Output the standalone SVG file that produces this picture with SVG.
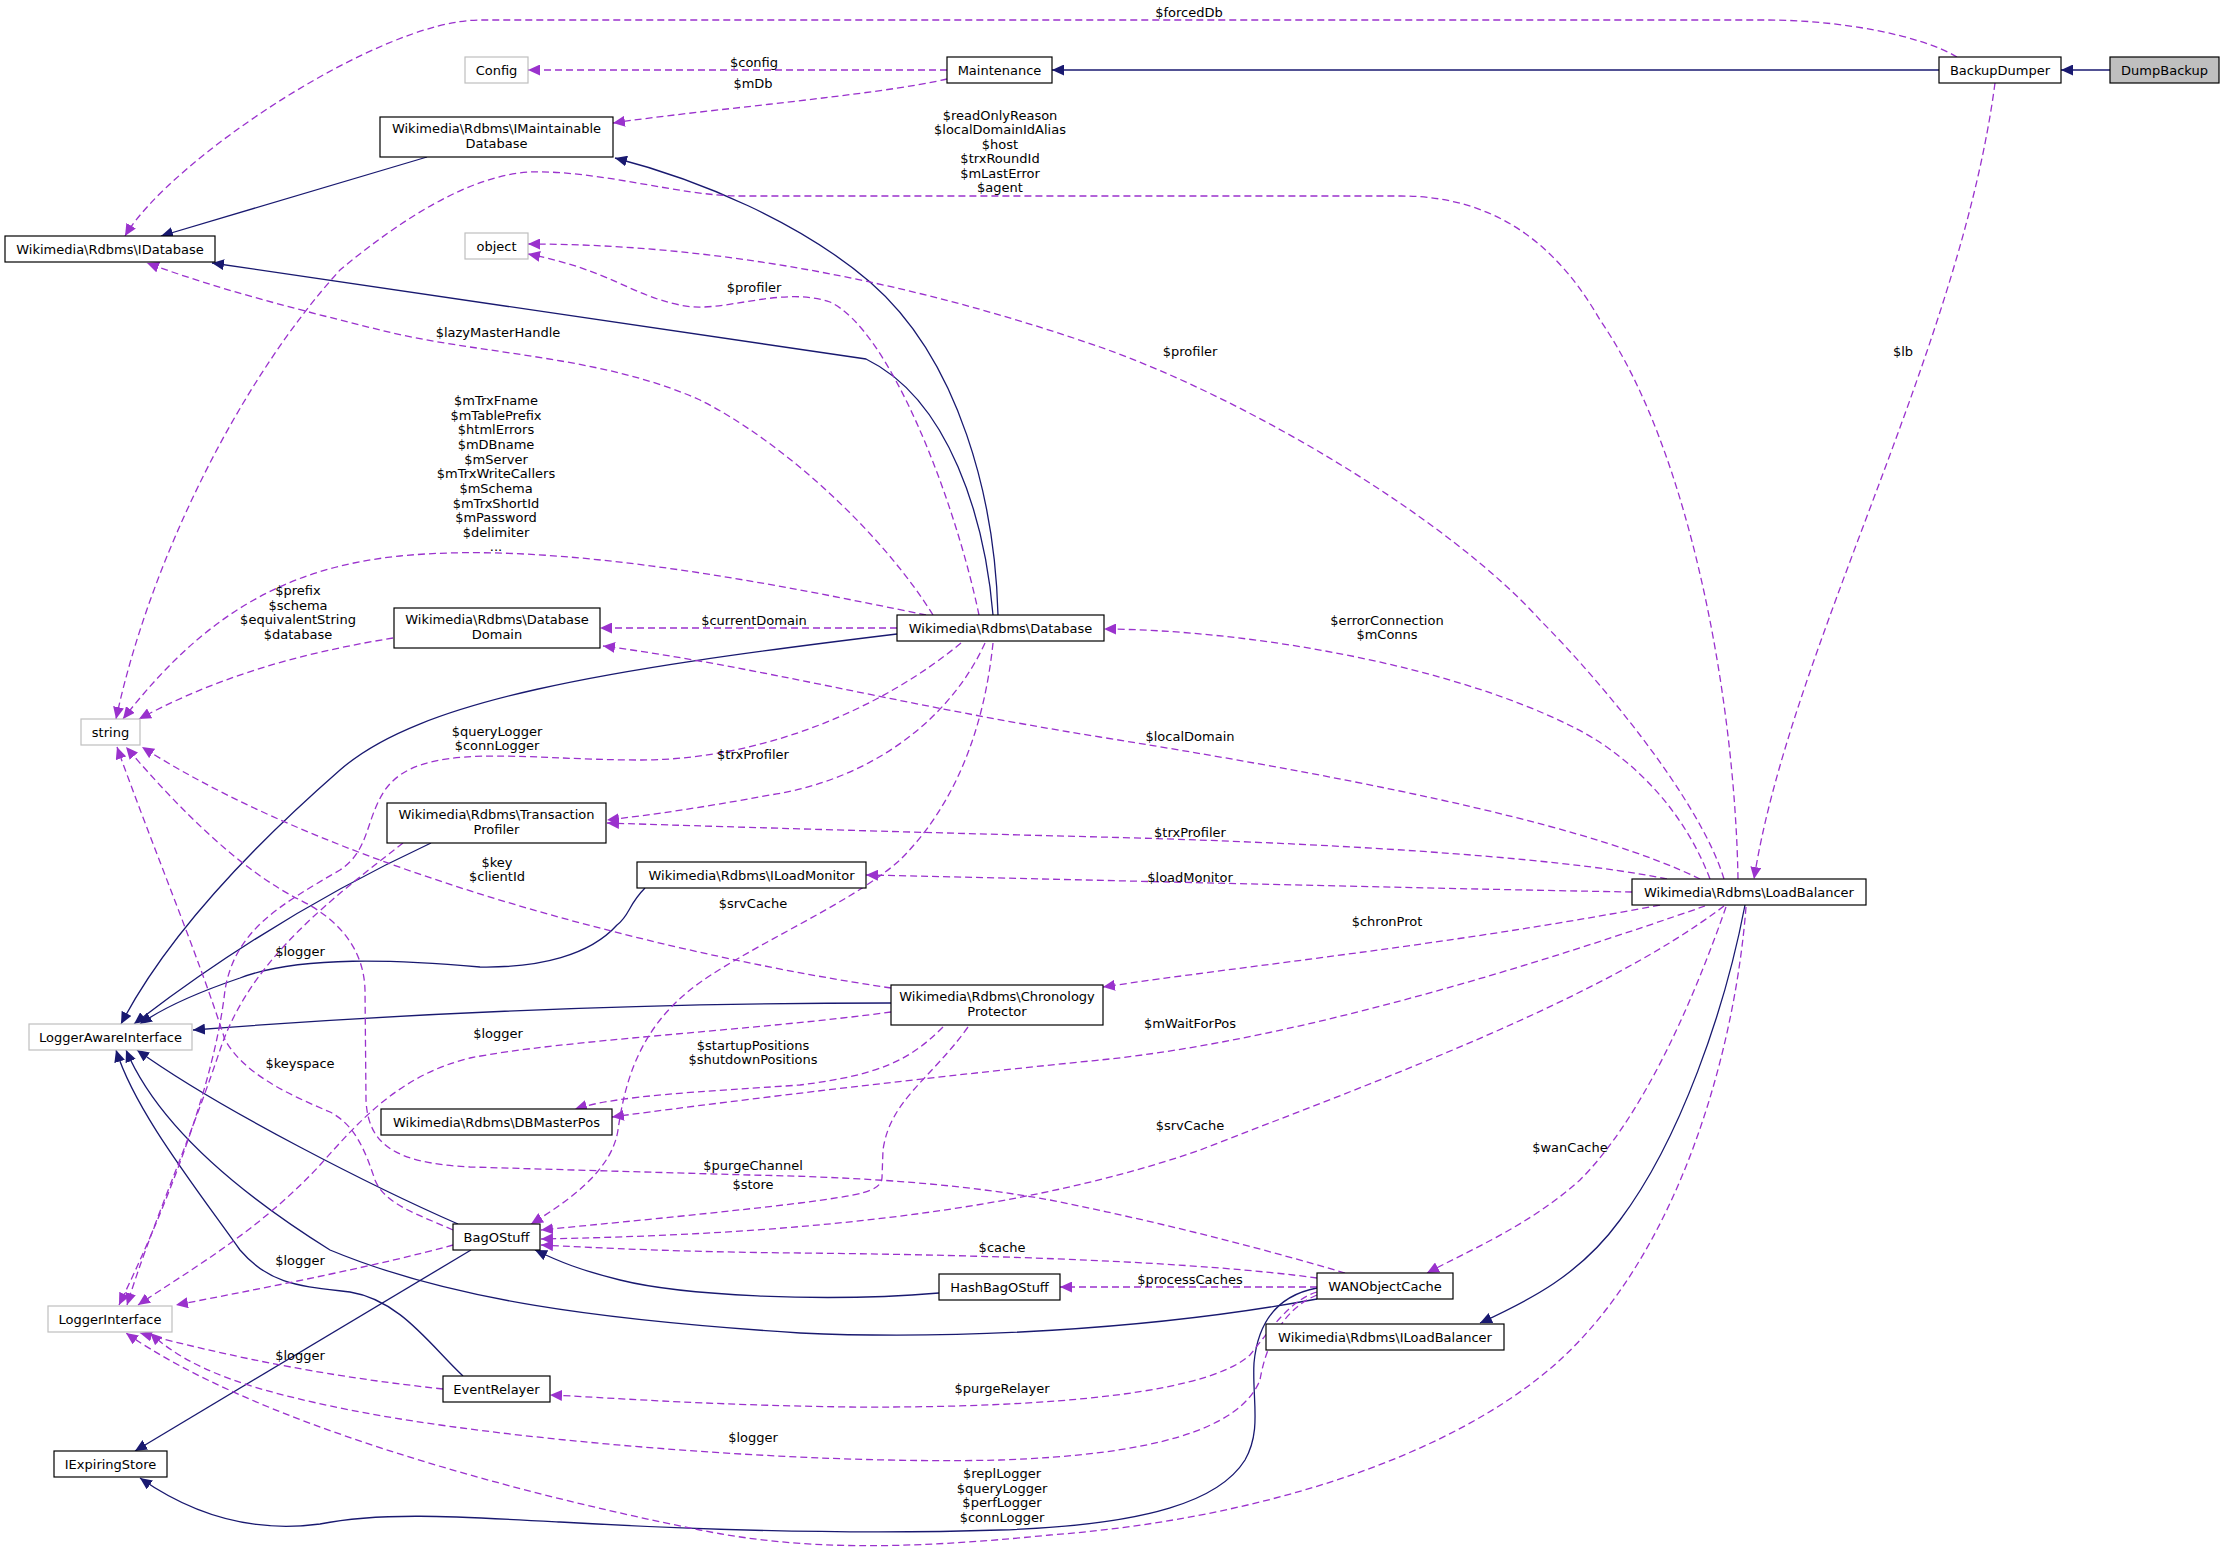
<svg xmlns="http://www.w3.org/2000/svg" width="2225" height="1554" viewBox="0 0 2225 1554">
<style>
.n rect{fill:#fff;stroke:#000;stroke-width:1.2}
.g rect{fill:#fff;stroke:#bfbfbf;stroke-width:1.2}
.f rect{fill:#bfbfbf;stroke:#000;stroke-width:1.2}
text{font-family:"DejaVu Sans",sans-serif;font-size:13px;text-anchor:middle;fill:#000}
.s{fill:none;stroke:#191970;stroke-width:1.3;marker-end:url(#as)}
.d{fill:none;stroke:#9a32cd;stroke-width:1.3;stroke-dasharray:7,4;marker-end:url(#ad)}
</style>
<defs>
<marker id="as" markerUnits="userSpaceOnUse" markerWidth="13" markerHeight="11" viewBox="0 0 13 11" refX="12" refY="5.5" orient="auto"><path d="M0,0 L12,5.5 L0,11 z" fill="#191970"/></marker>
<marker id="ad" markerUnits="userSpaceOnUse" markerWidth="13" markerHeight="11" viewBox="0 0 13 11" refX="12" refY="5.5" orient="auto"><path d="M0,0 L12,5.5 L0,11 z" fill="#9a32cd"/></marker>
</defs>
<rect width="2225" height="1554" fill="#fff"/>
<g id="edges">
<!-- solid inheritance -->
<path class="s" d="M2110,70 L2061,70"/>
<path class="s" d="M1939,70 L1052,70"/>
<path class="s" d="M427,157 L161,236"/>
<path class="s" d="M998,615 C995,500 960,360 870,282 C800,222 700,180 615,158"/>
<path class="s" d="M993,615 C985,520 950,400 866,359 L212,263"/>
<path class="s" d="M897,634 C600,670 420,700 340,770 C260,840 170,930 121,1024"/>
<path class="s" d="M431,843 C330,890 230,950 134,1024"/>
<path class="s" d="M645,888 C628,905 630,915 617,925 C590,955 540,968 480,967 C400,960 300,955 240,978 C190,995 160,1010 140,1024"/>
<path class="s" d="M891,1003 C700,1003 450,1010 193,1030"/>
<path class="s" d="M458,1224 C380,1190 220,1110 137,1050"/>
<path class="s" d="M463,1376 C430,1345 400,1300 350,1292 C300,1286 270,1285 240,1250 C190,1180 135,1110 116,1050"/>
<path class="s" d="M1317,1299 C1150,1330 950,1340 800,1333 C600,1320 450,1300 330,1250 C250,1200 160,1130 126,1050"/>
<path class="s" d="M939,1293 C820,1303 680,1295 620,1280 C580,1270 560,1262 535,1250"/>
<path class="s" d="M471,1250 L135,1451"/>
<path class="s" d="M1317,1288 C1280,1295 1258,1320 1254,1363 C1252,1400 1262,1430 1245,1460 C1220,1500 1150,1525 1000,1530 C850,1535 700,1530 560,1522 C450,1516 380,1512 320,1524 C260,1532 200,1520 140,1478"/>
<path class="s" d="M1745,905 C1725,1010 1680,1140 1620,1220 C1580,1275 1530,1300 1480,1323"/>
<!-- dashed usage -->
<path class="d" d="M1957,57 C1920,35 1840,20 1767,20 L480,20 C380,20 170,160 125,236"/>
<path class="d" d="M947,70 L528,70"/>
<path class="d" d="M947,79 C880,95 700,110 613,123"/>
<path class="d" d="M1995,83 C1960,350 1790,650 1754,879"/>
<path class="d" d="M1738,879 C1735,700 1690,450 1600,320 C1560,250 1500,196 1401,196 L740,196 C680,196 600,170 530,172 C470,175 400,220 340,270 C240,380 150,560 116,719"/>
<path class="d" d="M1724,879 C1700,800 1600,680 1540,620 C1450,520 1250,400 1100,347 C950,295 750,244 528,244"/>
<path class="d" d="M1710,879 C1680,800 1620,750 1573,727 C1450,665 1250,630 1104,629"/>
<path class="d" d="M979,615 C955,500 890,330 830,302 C780,285 720,315 680,305 C630,295 610,270 528,254"/>
<path class="d" d="M933,615 C880,530 780,440 700,400 C600,355 480,355 380,330 C300,310 220,290 147,263"/>
<path class="d" d="M926,615 C780,585 560,540 400,556 C280,568 200,620 123,719"/>
<path class="d" d="M897,628 L600,628"/>
<path class="d" d="M393,638 C320,650 230,670 139,719"/>
<path class="d" d="M1700,879 C1600,830 1400,785 1100,737 C900,705 750,665 603,646"/>
<path class="d" d="M1667,879 C1550,855 1300,842 1100,837 C900,832 700,826 607,823"/>
<path class="d" d="M985,643 C950,720 870,780 770,795 C700,808 650,815 607,820"/>
<path class="d" d="M961,643 C880,710 760,760 640,760 C520,760 420,740 385,790 C365,820 370,850 340,870 C280,905 235,930 225,990 C215,1080 170,1200 119,1305"/>
<path class="d" d="M403,843 C330,900 250,960 220,1050 C190,1140 150,1230 127,1305"/>
<path class="d" d="M891,988 C700,960 350,880 142,747"/>
<path class="d" d="M891,1012 C760,1030 560,1040 470,1058 C400,1075 360,1120 320,1165 C260,1230 190,1270 138,1305"/>
<path class="d" d="M943,1027 C910,1060 880,1075 800,1085 C700,1092 620,1095 575,1109"/>
<path class="d" d="M968,1027 C930,1080 890,1100 883,1150 L882,1178 C880,1192 860,1195 800,1203 C700,1215 600,1224 541,1230"/>
<path class="d" d="M1724,906 C1600,1000 1380,1080 1200,1150 C1000,1220 750,1235 541,1239"/>
<path class="d" d="M1726,907 C1690,1010 1640,1120 1580,1180 C1530,1225 1470,1250 1427,1273"/>
<path class="d" d="M1746,907 C1735,1050 1680,1250 1560,1360 C1450,1460 1250,1520 1050,1535 C900,1550 800,1550 700,1530 C500,1490 250,1420 126,1333"/>
<path class="d" d="M1632,892 C1400,888 1100,880 866,875"/>
<path class="d" d="M1660,905 C1450,945 1250,965 1103,987"/>
<path class="d" d="M1705,906 C1550,960 1300,1040 1100,1060 C900,1080 700,1105 612,1117"/>
<path class="d" d="M1317,1278 C1200,1262 1000,1255 800,1253 C680,1252 600,1248 541,1245"/>
<path class="d" d="M1317,1287 L1060,1287"/>
<path class="d" d="M1317,1292 C1290,1300 1270,1330 1250,1355 C1200,1400 1000,1408 850,1407 C700,1405 600,1397 550,1395"/>
<path class="d" d="M1317,1295 C1280,1310 1265,1350 1260,1380 C1240,1430 1150,1455 1000,1460 C800,1465 500,1440 350,1410 C250,1390 190,1370 150,1333"/>
<path class="d" d="M443,1389 C380,1382 280,1370 140,1333"/>
<path class="d" d="M453,1245 C380,1265 280,1285 176,1305"/>
<path class="d" d="M1345,1273 C1250,1245 1150,1220 1050,1200 C950,1182 850,1177 750,1175 L470,1167 C395,1163 368,1145 366,1100 L365,990 C364,950 340,920 300,900 C240,870 180,810 126,747"/>
<path class="d" d="M453,1230 C420,1215 385,1205 375,1180 C365,1150 355,1125 330,1112 C290,1095 245,1075 225,1040 C200,960 150,840 117,747"/>
<path class="d" d="M993,643 C985,720 960,800 900,860 C850,905 740,950 690,990 C640,1030 625,1080 618,1130 C612,1170 570,1200 531,1224"/>
<!-- labels -->
<text x="1189" y="17">$forcedDb</text>
<text x="754" y="67">$config</text>
<text x="753" y="88">$mDb</text>
<text x="1000" y="120">$readOnlyReason</text>
<text x="1000" y="134">$localDomainIdAlias</text>
<text x="1000" y="149">$host</text>
<text x="1000" y="163">$trxRoundId</text>
<text x="1000" y="178">$mLastError</text>
<text x="1000" y="192">$agent</text>
<text x="754" y="292">$profiler</text>
<text x="1190" y="356">$profiler</text>
<text x="1903" y="356">$lb</text>
<text x="498" y="337">$lazyMasterHandle</text>
<text x="496" y="405">$mTrxFname</text>
<text x="496" y="420">$mTablePrefix</text>
<text x="496" y="434">$htmlErrors</text>
<text x="496" y="449">$mDBname</text>
<text x="496" y="464">$mServer</text>
<text x="496" y="478">$mTrxWriteCallers</text>
<text x="496" y="493">$mSchema</text>
<text x="496" y="508">$mTrxShortId</text>
<text x="496" y="522">$mPassword</text>
<text x="496" y="537">$delimiter</text>
<text x="496" y="551">...</text>
<text x="298" y="595">$prefix</text>
<text x="298" y="610">$schema</text>
<text x="298" y="624">$equivalentString</text>
<text x="298" y="639">$database</text>
<text x="754" y="625">$currentDomain</text>
<text x="1387" y="625">$errorConnection</text>
<text x="1387" y="639">$mConns</text>
<text x="1190" y="741">$localDomain</text>
<text x="497" y="736">$queryLogger</text>
<text x="497" y="750">$connLogger</text>
<text x="753" y="759">$trxProfiler</text>
<text x="1190" y="837">$trxProfiler</text>
<text x="497" y="867">$key</text>
<text x="497" y="881">$clientId</text>
<text x="1190" y="882">$loadMonitor</text>
<text x="753" y="908">$srvCache</text>
<text x="1387" y="926">$chronProt</text>
<text x="300" y="956">$logger</text>
<text x="1190" y="1028">$mWaitForPos</text>
<text x="498" y="1038">$logger</text>
<text x="753" y="1050">$startupPositions</text>
<text x="753" y="1064">$shutdownPositions</text>
<text x="300" y="1068">$keyspace</text>
<text x="1190" y="1130">$srvCache</text>
<text x="1570" y="1152">$wanCache</text>
<text x="753" y="1170">$purgeChannel</text>
<text x="753" y="1189">$store</text>
<text x="1002" y="1252">$cache</text>
<text x="300" y="1265">$logger</text>
<text x="1190" y="1284">$processCaches</text>
<text x="300" y="1360">$logger</text>
<text x="1002" y="1393">$purgeRelayer</text>
<text x="753" y="1442">$logger</text>
<text x="1002" y="1478">$replLogger</text>
<text x="1002" y="1493">$queryLogger</text>
<text x="1002" y="1507">$perfLogger</text>
<text x="1002" y="1522">$connLogger</text>
</g>
<g id="DumpBackup" class="f"><rect x="2110" y="57" width="109" height="26"/><text x="2164.5" y="74.5">DumpBackup</text></g>
<g id="BackupDumper" class="n"><rect x="1939" y="57" width="122" height="26"/><text x="2000" y="74.5">BackupDumper</text></g>
<g id="Maintenance" class="n"><rect x="947" y="57" width="105" height="26"/><text x="999.5" y="74.5">Maintenance</text></g>
<g id="Config" class="g"><rect x="465" y="57" width="63" height="26"/><text x="496.5" y="74.5">Config</text></g>
<g id="IMaintainableDatabase" class="n"><rect x="380" y="117" width="233" height="40"/><text x="496.5" y="132.5">Wikimedia\Rdbms\IMaintainable</text><text x="496.5" y="147.5">Database</text></g>
<g id="IDatabase" class="n"><rect x="5" y="236" width="210" height="26"/><text x="110" y="253.5">Wikimedia\Rdbms\IDatabase</text></g>
<g id="object" class="g"><rect x="465" y="233" width="63" height="26"/><text x="496.5" y="250.5">object</text></g>
<g id="Database" class="n"><rect x="897" y="615" width="207" height="26"/><text x="1000.5" y="632.5">Wikimedia\Rdbms\Database</text></g>
<g id="DatabaseDomain" class="n"><rect x="394" y="608" width="206" height="40"/><text x="497" y="624">Wikimedia\Rdbms\Database</text><text x="497" y="639">Domain</text></g>
<g id="string" class="g"><rect x="81" y="719" width="59" height="26"/><text x="110.5" y="736.5">string</text></g>
<g id="TransactionProfiler" class="n"><rect x="387" y="803" width="219" height="40"/><text x="496.5" y="819">Wikimedia\Rdbms\Transaction</text><text x="496.5" y="834">Profiler</text></g>
<g id="ILoadMonitor" class="n"><rect x="637" y="862" width="229" height="26"/><text x="751.5" y="879.5">Wikimedia\Rdbms\ILoadMonitor</text></g>
<g id="LoadBalancer" class="n"><rect x="1632" y="879" width="234" height="26"/><text x="1749" y="896.5">Wikimedia\Rdbms\LoadBalancer</text></g>
<g id="ChronologyProtector" class="n"><rect x="891" y="985" width="212" height="40"/><text x="997" y="1001">Wikimedia\Rdbms\Chronology</text><text x="997" y="1016">Protector</text></g>
<g id="LoggerAwareInterface" class="g"><rect x="29" y="1024" width="163" height="26"/><text x="110.5" y="1041.5">LoggerAwareInterface</text></g>
<g id="DBMasterPos" class="n"><rect x="381" y="1109" width="231" height="26"/><text x="496.5" y="1126.5">Wikimedia\Rdbms\DBMasterPos</text></g>
<g id="BagOStuff" class="n"><rect x="453" y="1224" width="87" height="26"/><text x="496.5" y="1241.5">BagOStuff</text></g>
<g id="LoggerInterface" class="g"><rect x="48" y="1306" width="124" height="26"/><text x="110" y="1323.5">LoggerInterface</text></g>
<g id="HashBagOStuff" class="n"><rect x="939" y="1274" width="121" height="26"/><text x="999.5" y="1291.5">HashBagOStuff</text></g>
<g id="WANObjectCache" class="n"><rect x="1317" y="1273" width="136" height="26"/><text x="1385" y="1290.5">WANObjectCache</text></g>
<g id="ILoadBalancer" class="n"><rect x="1266" y="1324" width="238" height="26"/><text x="1385" y="1341.5">Wikimedia\Rdbms\ILoadBalancer</text></g>
<g id="EventRelayer" class="n"><rect x="443" y="1376" width="107" height="26"/><text x="496.5" y="1393.5">EventRelayer</text></g>
<g id="IExpiringStore" class="n"><rect x="54" y="1451" width="113" height="26"/><text x="110.5" y="1468.5">IExpiringStore</text></g>
</svg>
